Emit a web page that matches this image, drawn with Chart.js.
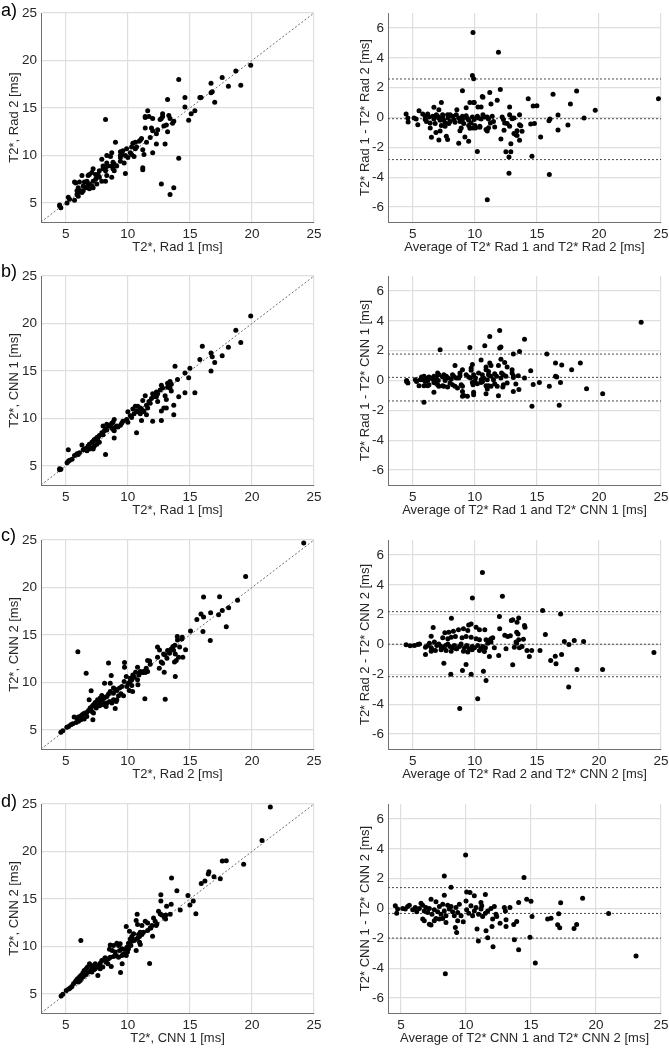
<!DOCTYPE html>
<html><head><meta charset="utf-8">
<script src="https://cdn.jsdelivr.net/npm/chart.js@4.4.1/dist/chart.umd.min.js"></script>
<style>
html,body{margin:0;padding:0;background:#fff;}
body{width:669px;height:1050px;position:relative;overflow:hidden;font-family:"Liberation Sans",Arial,Helvetica,sans-serif;}
canvas{position:absolute;}
.lbl{position:absolute;font-size:18px;line-height:18px;color:#000;font-family:"Liberation Sans",Arial,sans-serif;}
</style></head><body>
<script>
// ---------------- DATA ----------------
const panelLetters = ['a)', 'b)', 'c)', 'd)'];
const scatterXTitles = ['T2*, Rad 1 [ms]', 'T2*, Rad 1 [ms]', 'T2*, Rad 2 [ms]', 'T2*, CNN 1 [ms]'];
const scatterYTitles = ['T2*, Rad 2 [ms]', 'T2*, CNN 1 [ms]', 'T2*, CNN 2 [ms]', 'T2*, CNN 2 [ms]'];
const baXTitles = ['Average of T2* Rad 1 and T2* Rad 2 [ms]', 'Average of T2* Rad 1 and T2* CNN 1 [ms]', 'Average of T2* Rad 2 and T2* CNN 2 [ms]', 'Average of T2* CNN 1 and T2* CNN 2 [ms]'];
const baYTitles = ['T2* Rad 1 - T2* Rad 2 [ms]', 'T2* Rad 1 - T2* CNN 1 [ms]', 'T2* Rad 2 - T2* CNN 2 [ms]', 'T2* CNN 1 - T2* CNN 2 [ms]'];

const scatterTicks = [5, 10, 15, 20, 25];
const baXTicks = [5, 10, 15, 20, 25];
const baYTicks = [-6, -4, -2, 0, 2, 4, 6];
const scatterRange = [3, 25];
const identityLine = [3, 25];
const baYRange = [-7, 7];
const baXRanges = [[3, 25], [3, 25], [3, 25], [4, 25]];

// Bland-Altman limits: [upper LoA, mean bias, lower LoA]
const limitsA = [2.58, -0.08, -2.82];
const limitsB = [1.77, 0.21, -1.37];
const limitsC = [2.2, 0.02, -2.16];
const limitsD = [1.4, -0.33, -1.98];

const scatterA = [[19.9,19.5],[18.7,18.9],[17.6,18.2],[16.7,17.6],[19.1,17.4],[18.1,17.3],[16.8,16.7],[16.7,16.6],[15.8,16.1],[15.9,16.1],[17.0,15.6],[15.4,14.7],[15.1,14.4],[14.9,13.7],[14.6,16.1],[14.6,15.1],[14.1,18.0],[13.2,15.9],[14.1,9.7],[12.7,7.0],[13.7,6.6],[13.4,5.9],[8.2,13.8],[11.6,14.7],[11.4,14.1],[11.4,14.0],[11.7,14.1],[12.0,13.9],[12.8,14.4],[12.8,14.1],[12.6,13.8],[12.7,13.9],[13.3,14.2],[13.4,13.9],[13.6,13.4],[13.7,13.6],[11.4,12.9],[11.9,12.9],[12.0,12.6],[12.4,12.7],[12.3,12.3],[12.9,13.1],[13.1,13.2],[13.2,12.5],[13.0,11.2],[12.3,11.2],[12.0,10.3],[11.8,11.9],[11.5,11.4],[11.1,11.8],[10.9,11.5],[11.0,11.6],[10.6,11.4],[10.4,11.3],[10.3,10.9],[10.6,10.7],[10.7,10.9],[9.9,10.7],[10.2,10.3],[10.3,10.1],[9.8,10.0],[10.0,9.8],[9.5,10.1],[9.4,10.0],[9.4,10.4],[9.6,10.5],[9.0,11.4],[10.5,9.9],[11.3,10.1],[11.2,10.6],[11.2,8.7],[11.2,8.5],[9.8,8.1],[9.4,9.8],[9.4,9.4],[9.7,9.2],[8.8,9.3],[8.9,9.1],[9.1,8.9],[8.7,8.9],[8.6,9.9],[8.7,10.3],[8.3,9.2],[8.4,8.9],[8.2,8.7],[7.9,9.6],[8.0,8.9],[8.0,8.6],[8.2,8.4],[8.8,8.6],[8.9,8.4],[7.7,8.4],[7.6,8.0],[7.5,7.9],[7.2,8.6],[7.1,8.2],[7.4,8.0],[7.4,7.5],[7.2,7.3],[7.7,7.7],[7.9,7.3],[6.9,8.0],[6.8,7.9],[6.7,7.3],[6.8,7.0],[6.5,7.2],[6.4,6.8],[6.6,6.6],[6.7,6.7],[6.3,7.9],[6.9,7.0],[7.1,6.8],[7.2,6.6],[6.1,7.2],[6.0,6.6],[5.9,6.3],[6.1,6.2],[6.2,6.3],[6.3,6.1],[6.4,6.3],[5.9,5.9],[6.0,5.7],[5.7,7.2],[5.8,7.1],[5.7,5.3],[5.2,5.6],[5.3,5.4],[5.1,5.0],[4.5,4.8],[4.6,4.5],[4.5,4.7],[6.9,6.5],[7.5,7.0],[8.2,7.3],[8.3,7.9],[8.7,7.7],[8.3,10.0]];

const blandAltmanA = [[9.85,5.69],[11.9,4.37],[9.8,2.82],[9.9,2.6],[24.8,1.26],[9.0,1.79],[12.05,1.88],[18.2,1.77],[16.3,1.55],[11.2,1.68],[14.3,1.26],[11.8,1.15],[10.6,1.41],[10.65,1.35],[9.9,1.0],[9.95,1.0],[9.6,1.01],[7.3,1.0],[15.0,0.79],[14.7,0.77],[17.7,0.9],[19.7,0.48],[11.3,0.9],[12.8,0.7],[9.3,0.65],[10.25,0.7],[10.5,0.7],[6.7,0.68],[5.5,0.46],[8.55,0.52],[7.1,0.52],[4.46,0.23],[4.6,-0.03],[4.62,-0.3],[5.1,-0.03],[5.27,-0.1],[5.4,-0.48],[5.8,0.23],[6.0,0.08],[6.0,-0.14],[6.2,0.23],[6.3,0.03],[6.1,-0.26],[6.4,-0.37],[6.6,0.08],[6.7,-0.1],[6.8,-0.4],[6.4,-0.7],[6.9,0.19],[7.0,0.08],[7.1,-0.03],[7.2,-0.19],[7.4,0.19],[7.4,0.03],[7.5,-0.19],[7.6,-0.37],[7.6,-0.59],[7.3,-0.54],[7.8,0.19],[7.85,-0.03],[8.0,-0.26],[7.9,-0.41],[8.0,0.19],[8.2,0.08],[8.3,-0.14],[8.4,-0.32],[8.5,0.19],[8.7,-0.03],[8.8,-0.26],[9.0,0.08],[9.0,-0.14],[9.1,-0.41],[8.9,-0.7],[9.3,0.12],[9.4,-0.05],[9.5,-0.19],[9.7,-0.37],[9.5,-0.54],[9.6,-0.72],[9.8,0.03],[9.95,-0.14],[10.0,-0.54],[9.85,-0.7],[10.2,0.08],[10.3,-0.03],[10.4,-0.59],[10.5,-0.1],[10.65,0.19],[10.8,0.03],[11.0,0.03],[10.9,-0.8],[11.1,-0.1],[11.25,-0.37],[11.4,0.08],[11.5,-0.26],[11.1,-0.68],[11.0,-0.9],[12.2,0.03],[12.3,-0.14],[12.4,-0.37],[12.35,-0.86],[12.6,-0.41],[12.8,-0.59],[12.8,0.19],[13.0,-0.08],[13.0,-0.03],[13.15,-0.03],[13.15,-1.08],[13.3,-1.15],[13.4,-1.2],[13.4,-0.88],[13.6,0.19],[13.6,-0.48],[13.7,-0.55],[13.6,-1.52],[13.8,-0.92],[14.5,-0.43],[10.05,-0.7],[10.4,-0.66],[11.6,-0.63],[12.9,-1.75],[12.1,-1.44],[12.9,-2.3],[12.75,-2.64],[12.5,-2.3],[10.2,-2.28],[9.5,-1.59],[8.7,-1.72],[9.2,-1.3],[7.7,-1.26],[7.1,-1.5],[7.8,-1.48],[6.5,-1.33],[6.86,-1.0],[7.2,-0.9],[8.8,-0.88],[14.6,-2.6],[12.75,-3.73],[16.0,-3.82],[11.0,-5.51],[15.3,-1.3],[14.8,-0.41],[16.7,-0.83],[17.5,-0.5],[16.7,0.17],[15.97,-0.21],[16.05,-0.1],[18.8,-0.03]];

const scatterB = [[19.9,20.8],[18.7,19.3],[19.1,18.0],[18.1,17.5],[17.6,16.6],[16.7,16.9],[16.8,16.5],[17.0,15.9],[16.7,15.0],[15.8,16.2],[16.0,17.6],[15.0,15.3],[14.9,14.3],[14.6,14.8],[14.6,12.7],[15.4,12.7],[14.1,12.3],[14.0,14.1],[13.8,15.5],[13.7,11.4],[13.7,10.4],[13.4,13.9],[13.5,13.6],[13.2,13.7],[13.2,13.3],[13.4,13.2],[13.5,12.9],[12.7,13.5],[12.8,13.2],[12.6,13.0],[12.3,12.8],[12.4,12.6],[13.0,12.4],[13.1,12.0],[12.9,11.1],[13.1,11.1],[12.7,10.8],[12.7,9.8],[12.0,9.7],[11.5,11.4],[11.6,11.1],[11.2,11.9],[12.0,12.6],[12.1,12.3],[11.9,12.1],[12.3,12.3],[12.4,11.8],[11.7,11.8],[11.8,11.6],[11.4,12.4],[10.8,11.3],[11.0,11.1],[11.1,11.0],[11.2,10.7],[11.3,10.8],[10.6,11.3],[10.4,11.0],[10.7,10.8],[10.8,10.7],[11.0,10.5],[10.5,10.5],[11.5,10.4],[11.1,9.8],[10.7,8.5],[10.0,10.7],[10.2,10.3],[10.3,10.1],[9.9,9.9],[10.0,9.6],[9.6,9.7],[9.5,9.5],[9.4,9.3],[9.2,9.1],[9.1,9.2],[8.8,9.6],[8.9,9.9],[8.7,9.5],[8.6,9.3],[8.4,9.2],[8.8,8.9],[8.9,8.7],[8.7,9.0],[8.9,7.95],[8.2,8.9],[8.3,8.8],[8.1,8.7],[7.9,8.5],[8.0,8.3],[7.7,8.2],[7.6,8.0],[7.5,8.0],[7.3,7.8],[7.2,7.6],[7.1,7.5],[7.6,7.6],[7.7,7.5],[7.5,7.3],[7.3,7.1],[6.9,7.3],[6.8,7.1],[6.7,6.9],[7.0,6.9],[6.9,6.8],[6.7,6.6],[6.5,6.8],[6.4,6.7],[7.2,6.9],[7.2,6.8],[6.3,7.2],[6.1,6.4],[6.0,6.2],[5.9,6.3],[5.7,6.1],[5.5,5.7],[5.3,5.6],[5.2,6.7],[5.1,5.35],[5.2,5.5],[4.5,4.7],[4.6,4.65],[4.5,4.6],[8.2,6.2],[9.0,9.1],[8.0,9.2],[8.3,9.4]];

const blandAltmanB = [[23.4,3.91],[12.0,3.35],[11.2,2.95],[14.0,2.77],[10.8,2.33],[9.6,2.21],[12.0,2.17],[12.1,2.24],[7.2,2.06],[13.6,1.95],[13.1,1.77],[15.8,1.77],[12.1,1.43],[10.5,1.37],[12.4,1.21],[16.5,1.17],[18.5,1.17],[17.0,1.03],[11.2,1.17],[11.3,1.0],[9.8,1.08],[8.4,1.0],[11.9,1.0],[12.6,0.9],[17.8,0.72],[9.0,0.72],[14.5,0.65],[9.7,0.83],[9.7,0.68],[10.9,0.9],[10.9,0.72],[13.0,0.72],[13.0,0.5],[13.1,0.32],[13.1,0.2],[16.5,0.28],[14.0,0.16],[12.15,0.5],[12.3,0.39],[12.5,0.28],[12.1,0.16],[11.6,0.45],[11.75,0.28],[11.5,0.05],[11.1,0.61],[11.1,0.39],[11.3,0.28],[11.0,0.05],[13.5,0.32],[10.3,0.5],[10.6,0.39],[10.7,0.16],[10.5,0.05],[10.6,-0.06],[9.9,0.39],[10.05,0.16],[10.0,-0.06],[9.3,0.39],[9.5,0.23],[9.65,0.16],[8.8,0.5],[8.8,0.32],[8.7,0.16],[8.2,0.39],[8.3,0.28],[8.5,0.16],[8.1,0.1],[7.5,0.39],[7.7,0.28],[7.85,0.16],[7.4,0.23],[7.6,0.0],[7.0,0.5],[7.1,0.39],[6.9,0.23],[6.8,0.05],[7.05,0.0],[6.8,-0.17],[6.7,0.28],[6.6,0.1],[6.7,-0.13],[6.3,0.23],[6.4,0.16],[6.2,0.0],[5.9,0.28],[6.0,0.16],[5.8,0.05],[6.0,-0.06],[5.7,0.23],[5.6,0.05],[5.5,-0.35],[5.2,0.05],[5.3,-0.06],[4.5,0.0],[4.6,-0.17],[4.5,-0.06],[6.3,-0.28],[6.2,-0.35],[5.9,-0.35],[6.7,-0.79],[5.9,-1.46],[7.0,-0.28],[7.1,-0.39],[7.4,-0.35],[7.5,-0.39],[7.8,-0.44],[8.0,-0.17],[8.2,-0.28],[8.4,-0.39],[8.6,-0.5],[8.9,-0.28],[9.0,-0.39],[9.0,-0.73],[9.1,-1.0],[9.0,-1.06],[9.4,-1.06],[9.8,-0.13],[9.85,-0.28],[9.9,-0.79],[9.9,-0.95],[10.2,-0.21],[10.5,-0.13],[10.6,-0.06],[10.9,-0.35],[11.0,-0.57],[10.9,-0.88],[11.1,-0.35],[11.3,-0.39],[11.6,-0.21],[11.8,-0.39],[11.9,-1.02],[12.3,-0.28],[12.25,-0.44],[12.6,-0.17],[13.1,-0.73],[13.3,-0.24],[14.7,-0.26],[15.2,-0.13],[16.0,-0.39],[16.9,-0.13],[16.6,0.23],[19.0,-0.55],[20.3,-0.88],[14.6,-1.73],[16.8,-1.66],[13.55,-0.6]];

const scatterC = [[24.17,24.69],[19.49,21.15],[17.39,19.02],[16.10,18.99],[18.84,18.67],[18.12,17.87],[17.61,17.59],[17.31,17.13],[16.67,17.34],[16.10,16.89],[15.89,17.2],[15.56,16.64],[17.93,15.87],[16.05,15.38],[16.64,14.41],[15.05,15.42],[13.98,14.83],[14.38,14.76],[14.0,14.48],[12.39,13.74],[14.65,13.46],[14.17,13.74],[13.79,13.92],[13.68,13.39],[13.47,13.5],[13.2,13.36],[13.36,13.08],[13.82,13.0],[14.09,12.66],[14.43,12.66],[13.76,12.17],[13.9,12.31],[12.39,12.66],[12.8,12.03],[13.15,12.55],[12.69,12.17],[12.53,11.5],[12.93,11.08],[13.82,10.63],[13.01,8.25],[11.37,8.29],[11.59,12.31],[11.8,11.92],[11.48,11.5],[11.26,11.15],[11.13,11.08],[11.59,11.15],[11.4,11.05],[10.78,11.61],[10.62,11.08],[10.89,10.8],[10.4,10.8],[10.51,10.56],[10.19,10.45],[10.78,10.28],[10.81,9.76],[10.32,9.69],[10.05,9.93],[9.92,9.58],[10.11,9.16],[10.38,9.06],[9.73,12.1],[9.73,11.61],[8.66,10.73],[8.44,12.06],[5.97,13.25],[6.64,10.98],[8.12,9.93],[8.58,9.93],[7.04,9.13],[9.52,9.58],[9.33,9.41],[9.11,9.16],[8.98,9.3],[8.84,8.88],[9.25,8.6],[9.44,8.81],[9.65,8.6],[8.58,9.06],[8.44,8.78],[8.31,8.53],[8.17,8.46],[8.04,8.32],[7.88,8.25],[7.98,7.9],[7.77,7.83],[7.63,7.66],[7.5,7.55],[8.84,8.18],[8.71,7.83],[8.52,8.0],[8.31,7.83],[8.98,7.27],[9.11,8.18],[9.06,8.0],[7.77,8.36],[7.56,8.18],[7.37,7.9],[7.23,7.66],[7.1,7.48],[6.96,7.31],[6.83,7.06],[6.69,6.85],[6.56,6.78],[6.42,6.71],[6.29,6.57],[6.16,6.43],[6.02,6.36],[5.89,6.26],[5.67,6.36],[6.88,8.18],[7.18,6.08],[7.23,6.78],[7.1,6.96],[7.45,7.31],[7.72,7.55],[8.04,7.66],[8.25,7.48],[6.69,6.43],[6.48,6.15],[6.21,6.08],[6.02,5.91],[5.83,5.8],[5.56,5.66],[5.4,5.56],[5.22,5.38],[5.08,5.28],[4.76,4.93],[4.6,4.76],[9.7,10.1],[9.87,10.63],[10.19,10.1],[10.32,10.28],[11.0,11.15],[11.2,11.05],[11.75,12.27],[12.55,13.43],[12.88,13.0],[13.0,12.9],[13.63,13.78],[14.35,14.58],[8.84,9.41],[7.9,8.64]];

const blandAltmanC = [[10.61,4.83],[9.8,3.12],[12.22,3.23],[15.46,2.27],[16.91,2.05],[8.11,1.76],[6.64,1.14],[11.98,1.87],[12.94,1.6],[13.05,1.65],[13.53,1.78],[13.4,1.49],[14.0,1.27],[14.04,1.16],[12.0,1.05],[9.7,1.38],[9.5,1.31],[9.08,1.05],[8.68,0.98],[8.27,0.89],[7.9,0.82],[7.58,0.78],[9.43,0.94],[10.1,1.16],[10.37,0.98],[10.8,0.98],[13.37,0.82],[13.48,0.71],[15.68,0.67],[12.41,0.62],[12.65,0.53],[12.86,0.58],[6.48,0.56],[7.41,0.45],[7.82,0.38],[8.09,0.49],[8.43,0.53],[8.97,0.45],[9.29,0.53],[9.7,0.49],[10.1,0.38],[10.37,0.31],[10.9,0.31],[11.3,0.38],[11.44,0.45],[13.91,0.36],[13.53,0.31],[13.32,0.16],[17.21,0.2],[18.01,0.27],[18.76,0.2],[17.58,0.0],[24.43,-0.53],[4.46,-0.02],[4.79,-0.09],[5.13,-0.07],[5.4,0.0],[5.54,0.04],[6.02,-0.18],[6.21,-0.07],[6.34,0.09],[6.48,-0.22],[6.56,-0.36],[6.74,0.16],[6.93,-0.07],[7.09,0.04],[7.28,-0.13],[7.47,-0.22],[7.63,-0.07],[7.82,0.04],[8.0,-0.13],[8.22,-0.22],[8.35,-0.07],[8.54,-0.29],[8.76,-0.13],[8.89,0.04],[9.16,-0.22],[9.35,-0.07],[9.56,-0.29],[9.78,-0.13],[9.97,-0.22],[10.23,-0.07],[10.5,-0.29],[10.63,-0.13],[10.85,-0.22],[6.02,-0.67],[6.48,-0.45],[6.82,-0.4],[7.28,-0.36],[7.68,-0.4],[8.09,-0.45],[8.49,-0.29],[9.08,-0.45],[9.43,-0.51],[9.78,-0.36],[10.37,-0.4],[10.77,-0.47],[11.17,-0.8],[11.04,0.09],[11.17,0.27],[11.3,0.16],[11.57,-0.22],[11.92,-0.73],[12.51,-0.29],[13.18,-0.18],[13.37,0.09],[13.59,-0.22],[13.8,-0.13],[14.2,-0.4],[14.39,-0.8],[14.58,-0.4],[15.25,-0.4],[16.11,-1.07],[16.48,-0.78],[16.54,-1.29],[16.99,-0.67],[18.23,-1.67],[20.29,-1.67],[17.56,-2.85],[7.5,-1.25],[9.29,-1.34],[13.05,-1.36],[10.69,-1.8],[10.9,-2.41],[8.06,-2.0],[9.0,-1.74],[9.7,-2.0],[10.23,-3.63],[8.78,-4.28]];

const scatterD = [[21.48,24.69],[20.81,21.15],[17.61,18.99],[17.93,19.02],[19.33,18.67],[16.53,17.87],[16.48,17.62],[16.94,17.34],[17.45,17.13],[16.21,16.89],[15.91,16.64],[13.52,17.2],[13.95,15.87],[12.66,15.45],[12.66,14.79],[14.84,15.38],[15.27,14.79],[15.0,14.37],[15.48,13.46],[14.22,13.85],[13.49,14.44],[13.12,14.23],[13.41,13.39],[13.06,13.32],[12.47,13.71],[12.61,13.43],[12.93,13.08],[13.04,12.9],[12.74,13.32],[12.07,13.01],[12.2,12.66],[12.28,12.2],[11.94,12.2],[11.85,11.96],[11.59,12.48],[11.4,12.66],[10.75,13.39],[10.67,12.73],[10.78,12.31],[11.99,11.08],[11.75,8.22],[11.26,11.5],[11.0,11.5],[10.86,11.26],[11.13,11.26],[10.94,11.05],[10.78,10.87],[10.59,10.73],[10.94,10.45],[9.87,12.1],[10.13,11.61],[10.46,11.33],[10.32,11.05],[10.19,10.8],[10.51,10.63],[10.32,10.56],[10.05,10.35],[10.24,10.1],[9.92,9.93],[9.78,9.69],[10.05,9.76],[9.38,10.28],[9.25,10.1],[9.11,10.35],[8.84,10.1],[8.58,10.17],[8.52,9.72],[8.74,9.58],[8.98,9.41],[9.33,9.58],[9.52,9.76],[9.65,9.23],[9.52,9.06],[9.25,8.88],[9.06,9.02],[8.84,8.95],[8.58,8.88],[8.44,8.71],[8.17,8.81],[10.67,9.58],[11.0,10.21],[6.21,10.63],[9.54,8.18],[9.41,7.27],[8.66,7.9],[8.39,8.18],[8.23,8.36],[8.04,8.6],[7.9,8.53],[7.77,8.25],[7.63,8.0],[7.5,7.83],[7.37,7.66],[7.23,7.55],[7.1,7.31],[7.98,7.83],[7.77,7.66],[7.58,6.96],[6.91,8.18],[6.75,7.83],[6.64,7.66],[6.48,7.48],[6.37,7.2],[6.21,6.96],[6.1,6.78],[5.94,6.61],[5.83,6.43],[5.75,6.26],[5.62,6.08],[5.48,5.8],[5.35,5.63],[5.22,5.52],[5.03,5.38],[4.76,4.97],[4.62,4.8],[7.1,7.83],[7.23,8.0],[7.37,8.18],[7.02,7.48],[6.83,7.31],[6.64,7.06],[6.42,6.85],[6.29,6.71],[6.16,6.43],[6.02,6.26],[9.87,9.06],[9.97,9.41],[11.59,11.68],[11.8,11.96],[11.13,12.2],[12.34,12.38]];

const blandAltmanD = [[9.97,3.59],[8.33,2.18],[14.46,2.07],[8.85,1.43],[10.05,1.11],[10.31,1.07],[10.64,0.85],[11.49,0.94],[8.33,0.89],[14.67,0.62],[15.0,0.49],[14.05,0.4],[17.28,0.38],[18.97,0.69],[20.97,-0.33],[23.08,-3.18],[4.56,0.18],[4.74,-0.04],[4.67,-0.31],[5.13,0.0],[5.33,-0.04],[5.51,0.13],[5.64,0.22],[5.9,-0.09],[6.1,0.07],[6.21,-0.22],[6.41,0.0],[6.54,0.36],[6.67,0.22],[6.79,-0.16],[6.92,0.07],[7.05,-0.27],[7.18,0.0],[7.31,0.62],[7.38,-0.38],[7.56,-0.09],[7.69,0.45],[7.82,-0.22],[7.95,0.13],[8.08,-0.38],[8.21,0.29],[8.33,-0.16],[8.46,-0.49],[6.67,-0.71],[6.79,-0.82],[7.18,-1.05],[7.31,-1.11],[7.56,-0.82],[7.69,-0.67],[7.95,-0.71],[8.21,-0.67],[8.46,-0.94],[8.59,0.22],[8.72,-0.04],[8.85,0.13],[8.97,-0.22],[9.1,-0.49],[9.23,0.07],[9.36,-0.27],[9.49,0.29],[9.62,-0.49],[9.79,-0.89],[9.36,-0.82],[9.18,-1.27],[9.28,-1.6],[10.0,0.51],[10.05,-0.09],[10.21,-0.31],[10.38,0.18],[10.51,-0.49],[10.64,-0.16],[10.77,0.07],[10.97,-0.38],[11.15,-0.04],[11.28,-0.53],[10.85,-1.38],[10.95,-2.18],[11.15,0.4],[11.21,0.18],[11.54,-1.49],[11.67,-1.96],[12.08,-2.56],[11.49,-0.31],[11.67,-0.16],[11.92,0.0],[12.05,-0.71],[12.18,0.13],[12.31,-0.38],[12.36,-0.53],[12.0,-1.2],[12.62,-0.98],[12.95,0.07],[13.03,-0.16],[13.08,-0.76],[13.08,-1.2],[13.38,0.07],[13.67,-1.07],[13.9,-0.87],[13.72,-2.09],[14.05,-2.76],[14.92,-1.92],[15.08,-0.53],[15.33,-3.65],[16.28,-0.71],[16.54,-0.65],[17.05,-1.09],[17.21,-1.29],[17.13,-0.36],[18.31,-1.34],[18.51,-1.07],[8.41,-4.37]];

// ---------------- LAYOUT / STYLE ----------------
const scatterSets = [scatterA, scatterB, scatterC, scatterD];
const baSets = [blandAltmanA, blandAltmanB, blandAltmanC, blandAltmanD];
const baLimits = [limitsA, limitsB, limitsC, limitsD];

const FONT = '"Liberation Sans", Arial, Helvetica, sans-serif';
const TEXT = '#262626';
const GRID = '#dedede';
const AXIS = '#707070';
const rowTops = [13, 276, 540, 804];   // top of plot areas
const letterTops = [1, 262, 526, 792];
const PLOT_H = 209, PLOT_W = 273, PAD_TOP = 13, XAXIS_H = 36;
const CANVAS_H = PAD_TOP + PLOT_H + XAXIS_H;

Chart.defaults.font.family = FONT;
Chart.defaults.color = TEXT;

function mkCanvas(left, top, w, h) {
  const c = document.createElement('canvas');
  c.width = w; c.height = h;
  c.style.left = left + 'px'; c.style.top = top + 'px';
  c.style.width = w + 'px'; c.style.height = h + 'px';
  document.body.appendChild(c);
  return c;
}

function scaleDef(min, max, ticks, title, isX, axisSize, titlePad) {
  return {
    type: 'linear', min: min, max: max,
    afterBuildTicks: s => { s.ticks = ticks.map(v => ({ value: v })); },
    afterFit: s => {
      if (isX) { s.height = axisSize; s.paddingLeft = 0; s.paddingRight = 0; }
      else { s.width = axisSize; s.paddingTop = 0; s.paddingBottom = 0; }
    },
    grid: { color: GRID, lineWidth: 1.2, drawTicks: false },
    border: { display: true, color: AXIS, width: 1 },
    ticks: { padding: 4, font: { size: 13.5 }, color: TEXT, maxRotation: 0, autoSkip: false },
    title: { display: true, text: title, color: TEXT, font: { size: 13 }, padding: titlePad }
  };
}

function makePanel(canvas, pts, lines, xr, yr, xTicks, yTicks, xTitle, yTitle, yAxisW, padRight, yTitlePad, lineColor) {
  const datasets = [{
    data: pts.map(p => ({ x: p[0], y: p[1] })),
    pointRadius: 2.5, pointBackgroundColor: '#000', pointBorderWidth: 0,
    borderColor: '#000', showLine: false, order: 0
  }];
  lines.forEach(l => datasets.push({
    type: 'line', data: l, borderColor: lineColor, borderWidth: 1, borderDash: [2, 2],
    pointRadius: 0, fill: false, order: 1, tension: 0
  }));
  new Chart(canvas, {
    type: 'scatter',
    data: { datasets: datasets },
    options: {
      responsive: false, animation: false, events: [], devicePixelRatio: 1,
      layout: { padding: { left: 0, top: PAD_TOP, right: padRight, bottom: 0 } },
      plugins: { legend: { display: false }, tooltip: { enabled: false } },
      scales: {
        x: scaleDef(xr[0], xr[1], xTicks, xTitle, true, XAXIS_H, { top: 0, bottom: 3 }),
        y: scaleDef(yr[0], yr[1], yTicks, yTitle, false, yAxisW, { top: yTitlePad, bottom: 0 })
      }
    }
  });
}

for (let i = 0; i < 4; i++) {
  const top = rowTops[i] - PAD_TOP;
  // left: scatter
  const cl = mkCanvas(0, top, 330, CANVAS_H);
  const idLine = [[{ x: identityLine[0], y: identityLine[0] }, { x: identityLine[1], y: identityLine[1] }]];
  makePanel(cl, scatterSets[i], idLine, scatterRange, scatterRange, scatterTicks, scatterTicks,
    scatterXTitles[i], scatterYTitles[i], 41, 330 - 41 - PLOT_W, 7, '#6a6a6a');
  // right: Bland-Altman
  const cr = mkCanvas(330, top, 339, CANVAS_H);
  const xr = baXRanges[i];
  const baLines = baLimits[i].map(v => [{ x: xr[0], y: v }, { x: xr[1], y: v }]);
  makePanel(cr, baSets[i], baLines, xr, baYRange, baXTicks, baYTicks,
    baXTitles[i], baYTitles[i], 58, 339 - 58 - PLOT_W, 28, '#4a4a4a');
  // panel letter
  const d = document.createElement('div');
  d.className = 'lbl';
  d.textContent = panelLetters[i];
  d.style.left = '1px'; d.style.top = letterTops[i] + 'px';
  document.body.appendChild(d);
}
</script>
</body></html>
